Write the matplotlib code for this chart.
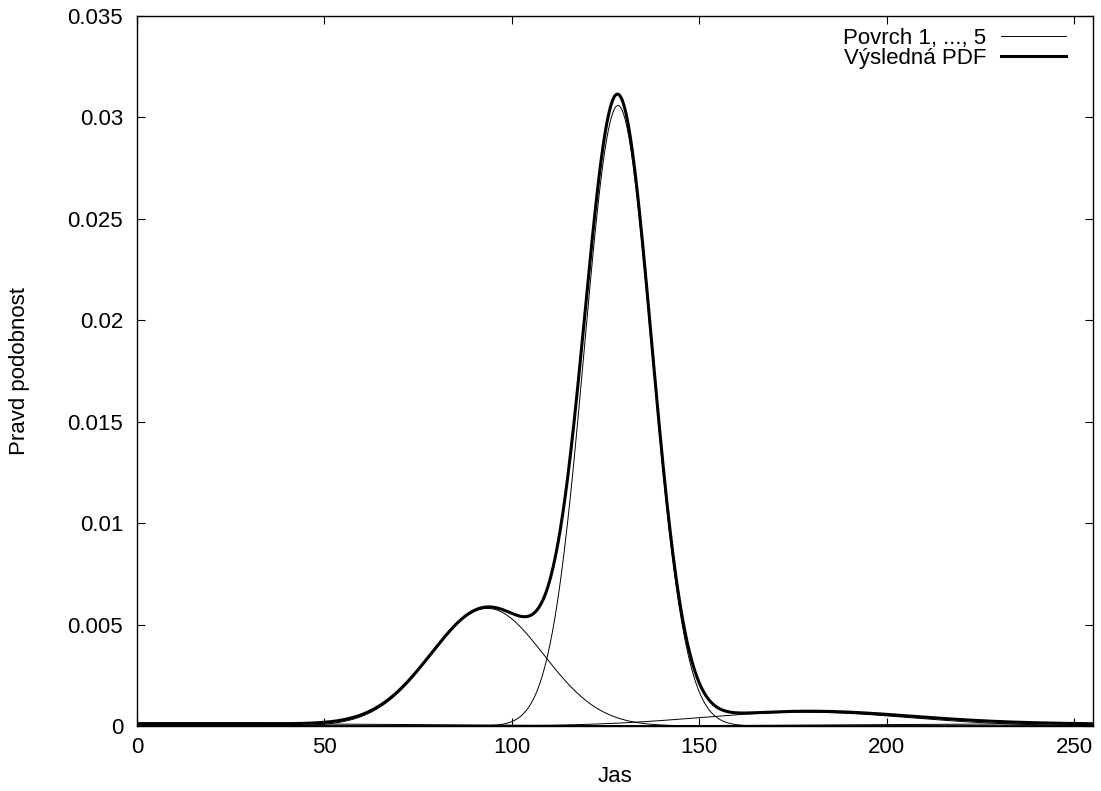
import numpy as np
import matplotlib
matplotlib.use("Agg")
import matplotlib.pyplot as plt

# mixture components (mean, std, weight)
means = [10.0, 93.5, 128.3, 178.0, 240.0]
sigmas = [60.0, 15.0, 9.0, 28.0, 50.0]
weights = [0.018, 0.218, 0.690, 0.0477, 0.0125]

x_ticks = [0, 50, 100, 150, 200, 250]
y_ticks = [0, 0.005, 0.01, 0.015, 0.02, 0.025, 0.03, 0.035]
y_tick_labels = ["0", "0.005", "0.01", "0.015", "0.02", "0.025", "0.03", "0.035"]

plt.rcParams["font.family"] = ["Liberation Sans", "DejaVu Sans"]

jas = np.linspace(0, 255, 1200)
components = [
    w * np.exp(-0.5 * ((jas - m) / s) ** 2) / (s * np.sqrt(2 * np.pi))
    for m, s, w in zip(means, sigmas, weights)
]
total = np.sum(components, axis=0)

fig = plt.figure(figsize=(11.01, 7.91), dpi=100)
ax = fig.add_axes([0.1244, 0.0822, 0.9927 - 0.1244, 0.9798 - 0.0822])

for i, comp in enumerate(components):
    ax.plot(jas, comp, color="black", linewidth=0.7,
            label="Povrch 1, ..., 5" if i == 0 else None)
ax.plot(jas, total, color="black", linewidth=2.2, label="Výsledná PDF")

ax.set_xlim(0, 255)
ax.set_ylim(0, 0.035)
ax.set_xticks(x_ticks)
ax.set_yticks(y_ticks)
ax.set_yticklabels(y_tick_labels)
ax.tick_params(direction="in", length=6, width=0.8, top=True, right=True,
               labelsize=16, pad=8)
ax.tick_params(axis="y", pad=10)
for sp in ax.spines.values():
    sp.set_linewidth(1.0)

ax.set_xlabel("Jas", fontsize=16, labelpad=6)
ax.set_ylabel("Pravd podobnost", fontsize=16, labelpad=27)

ax.legend(loc="upper right", bbox_to_anchor=(0.981, 0.996), frameon=False,
          markerfirst=False, fontsize=16, handlelength=2.9, handletextpad=0.68,
          labelspacing=-0.03, borderaxespad=0)

fig.savefig("out.png", dpi=100)
